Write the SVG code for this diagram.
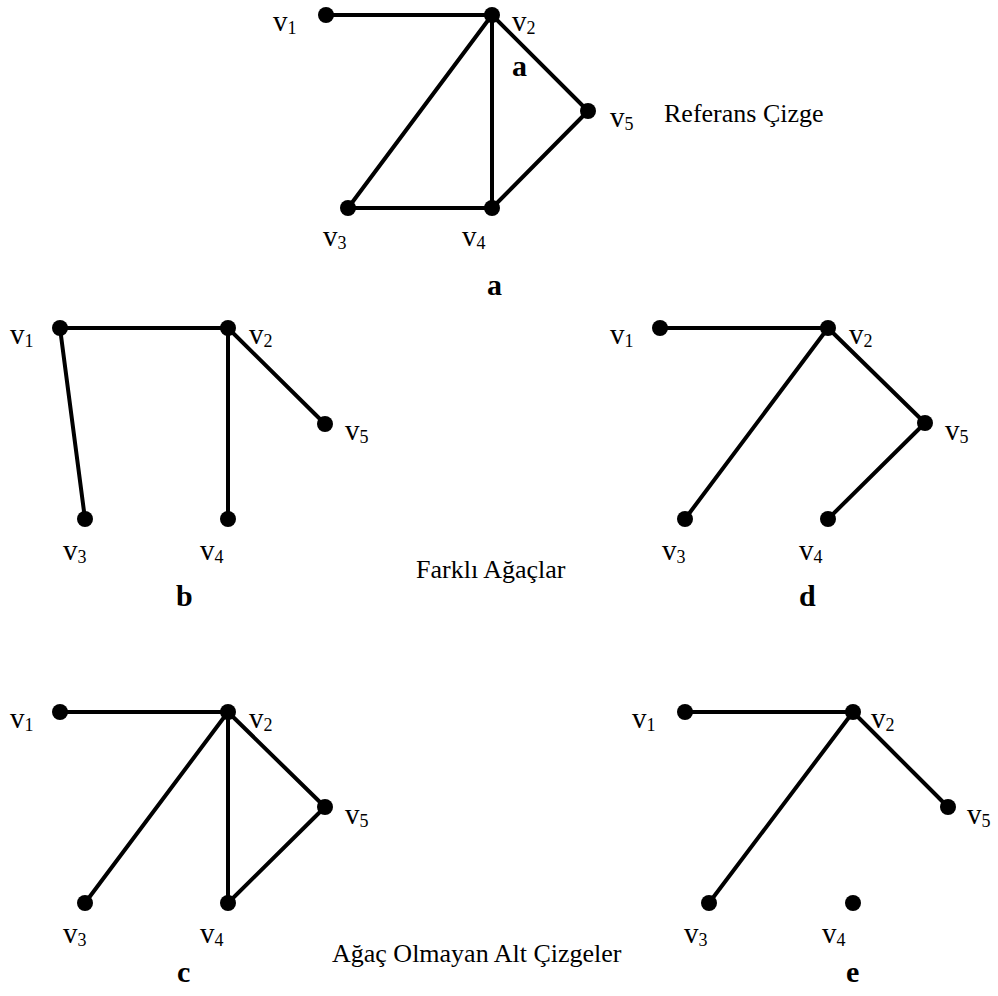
<svg xmlns="http://www.w3.org/2000/svg" width="998" height="996" viewBox="0 0 998 996">
  <style>
    .edge { stroke: #000; stroke-width: 4; stroke-linecap: round; fill: none; }
    .dot { fill: #000; }
    text { font-family: "Liberation Serif", "Times New Roman", serif; fill: #000; }
    .lbl { font-size: 29px; }
    .sub { font-size: 18px; }
    .cap { font-size: 30px; font-weight: bold; }
    .note { font-size: 26px; }
  </style>
  <rect width="998" height="996" fill="#fff"/>

  <!-- Panel a: reference graph -->
  <g id="panel-a">
    <g id="a-edges">
      <line class="edge" x1="326" y1="15" x2="492" y2="15"/>
      <line class="edge" x1="492" y1="15" x2="348" y2="208"/>
      <line class="edge" x1="492" y1="15" x2="492" y2="208"/>
      <line class="edge" x1="492" y1="15" x2="588" y2="111"/>
      <line class="edge" x1="348" y1="208" x2="492" y2="208"/>
      <line class="edge" x1="492" y1="208" x2="588" y2="111"/>
    </g>
    <g id="a-v1"><circle class="dot" cx="326" cy="15" r="8"/><text class="lbl" x="273" y="31">v<tspan class="sub" dy="3">1</tspan></text></g>
    <g id="a-v2"><circle class="dot" cx="492" cy="15" r="8"/><text class="lbl" x="512" y="31">v<tspan class="sub" dy="3">2</tspan></text></g>
    <g id="a-v3"><circle class="dot" cx="348" cy="208" r="8"/><text class="lbl" x="323" y="246">v<tspan class="sub" dy="3">3</tspan></text></g>
    <g id="a-v4"><circle class="dot" cx="492" cy="208" r="8"/><text class="lbl" x="462" y="246">v<tspan class="sub" dy="3">4</tspan></text></g>
    <g id="a-v5"><circle class="dot" cx="588" cy="111" r="8"/><text class="lbl" x="610" y="127">v<tspan class="sub" dy="3">5</tspan></text></g>
    <text class="cap" x="512" y="76">a</text>
    <text class="cap" x="487" y="295">a</text>
    <text class="note" x="664" y="122">Referans Çizge</text>
  </g>

  <!-- Panel b -->
  <g id="panel-b">
    <g id="b-edges">
      <line class="edge" x1="60" y1="328" x2="228" y2="328"/>
      <line class="edge" x1="60" y1="328" x2="85" y2="519"/>
      <line class="edge" x1="228" y1="328" x2="228" y2="519"/>
      <line class="edge" x1="228" y1="328" x2="325" y2="424"/>
    </g>
    <g id="b-v1"><circle class="dot" cx="60" cy="328" r="8"/><text class="lbl" x="10" y="344">v<tspan class="sub" dy="3">1</tspan></text></g>
    <g id="b-v2"><circle class="dot" cx="228" cy="328" r="8"/><text class="lbl" x="249" y="344">v<tspan class="sub" dy="3">2</tspan></text></g>
    <g id="b-v3"><circle class="dot" cx="85" cy="519" r="8"/><text class="lbl" x="63" y="560">v<tspan class="sub" dy="3">3</tspan></text></g>
    <g id="b-v4"><circle class="dot" cx="228" cy="519" r="8"/><text class="lbl" x="200" y="560">v<tspan class="sub" dy="3">4</tspan></text></g>
    <g id="b-v5"><circle class="dot" cx="325" cy="424" r="8"/><text class="lbl" x="345" y="440">v<tspan class="sub" dy="3">5</tspan></text></g>
    <text class="cap" x="176" y="606">b</text>
  </g>

  <text class="note" x="416" y="578">Farklı Ağaçlar</text>

  <!-- Panel d -->
  <g id="panel-d">
    <g id="d-edges">
      <line class="edge" x1="660" y1="328" x2="828" y2="328"/>
      <line class="edge" x1="828" y1="328" x2="685" y2="519"/>
      <line class="edge" x1="828" y1="328" x2="925" y2="423"/>
      <line class="edge" x1="925" y1="423" x2="828" y2="519"/>
    </g>
    <g id="d-v1"><circle class="dot" cx="660" cy="328" r="8"/><text class="lbl" x="610" y="344">v<tspan class="sub" dy="3">1</tspan></text></g>
    <g id="d-v2"><circle class="dot" cx="828" cy="328" r="8"/><text class="lbl" x="849" y="344">v<tspan class="sub" dy="3">2</tspan></text></g>
    <g id="d-v3"><circle class="dot" cx="685" cy="519" r="8"/><text class="lbl" x="662" y="560">v<tspan class="sub" dy="3">3</tspan></text></g>
    <g id="d-v4"><circle class="dot" cx="828" cy="519" r="8"/><text class="lbl" x="799" y="560">v<tspan class="sub" dy="3">4</tspan></text></g>
    <g id="d-v5"><circle class="dot" cx="925" cy="423" r="8"/><text class="lbl" x="945" y="440">v<tspan class="sub" dy="3">5</tspan></text></g>
    <text class="cap" x="799" y="606">d</text>
  </g>

  <!-- Panel c -->
  <g id="panel-c">
    <g id="c-edges">
      <line class="edge" x1="60" y1="712" x2="228" y2="712"/>
      <line class="edge" x1="228" y1="712" x2="85" y2="903"/>
      <line class="edge" x1="228" y1="712" x2="228" y2="903"/>
      <line class="edge" x1="228" y1="712" x2="325" y2="807"/>
      <line class="edge" x1="325" y1="807" x2="228" y2="903"/>
    </g>
    <g id="c-v1"><circle class="dot" cx="60" cy="712" r="8"/><text class="lbl" x="10" y="728">v<tspan class="sub" dy="3">1</tspan></text></g>
    <g id="c-v2"><circle class="dot" cx="228" cy="712" r="8"/><text class="lbl" x="249" y="728">v<tspan class="sub" dy="3">2</tspan></text></g>
    <g id="c-v3"><circle class="dot" cx="85" cy="903" r="8"/><text class="lbl" x="63" y="943">v<tspan class="sub" dy="3">3</tspan></text></g>
    <g id="c-v4"><circle class="dot" cx="228" cy="903" r="8"/><text class="lbl" x="200" y="943">v<tspan class="sub" dy="3">4</tspan></text></g>
    <g id="c-v5"><circle class="dot" cx="325" cy="807" r="8"/><text class="lbl" x="345" y="824">v<tspan class="sub" dy="3">5</tspan></text></g>
    <text class="cap" x="177" y="982">c</text>
  </g>

  <text class="note" x="332" y="962">Ağaç Olmayan Alt Çizgeler</text>

  <!-- Panel e -->
  <g id="panel-e">
    <g id="e-edges">
      <line class="edge" x1="685" y1="712" x2="853" y2="712"/>
      <line class="edge" x1="853" y1="712" x2="709" y2="903"/>
      <line class="edge" x1="853" y1="712" x2="948" y2="807"/>
    </g>
    <g id="e-v1"><circle class="dot" cx="685" cy="712" r="8"/><text class="lbl" x="632" y="728">v<tspan class="sub" dy="3">1</tspan></text></g>
    <g id="e-v2"><circle class="dot" cx="853" cy="712" r="8"/><text class="lbl" x="871" y="728">v<tspan class="sub" dy="3">2</tspan></text></g>
    <g id="e-v3"><circle class="dot" cx="709" cy="903" r="8"/><text class="lbl" x="684" y="943">v<tspan class="sub" dy="3">3</tspan></text></g>
    <g id="e-v4"><circle class="dot" cx="853" cy="903" r="8"/><text class="lbl" x="822" y="943">v<tspan class="sub" dy="3">4</tspan></text></g>
    <g id="e-v5"><circle class="dot" cx="948" cy="807" r="8"/><text class="lbl" x="967" y="824">v<tspan class="sub" dy="3">5</tspan></text></g>
    <text class="cap" x="846" y="982">e</text>
  </g>
</svg>
